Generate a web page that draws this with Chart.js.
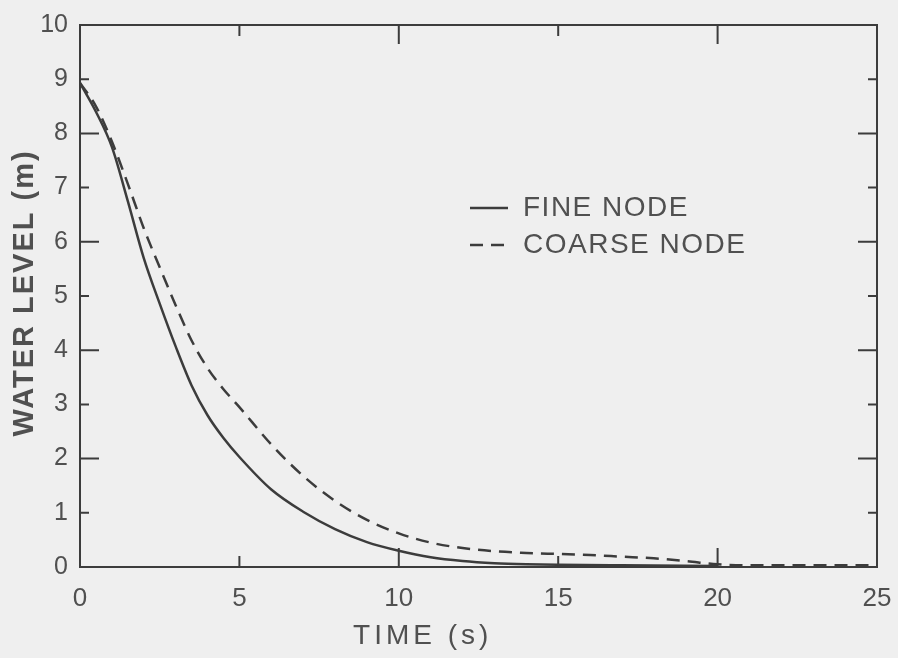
<!DOCTYPE html>
<html>
<head>
  <meta charset="UTF-8">
  <title>Water level</title>
  <script src="https://cdn.jsdelivr.net/npm/chart.js"></script>
  <style>
    body {
      margin: 0;
      background-color: #efefef;
    }
    canvas {
      display: block;
    }
  </style>
</head>
<body>
  <canvas id="chart" width="898" height="658"></canvas>

  <script>
    // values
    const timeFine = [0, 0.5, 1, 1.5, 2, 2.5, 3, 3.5, 4, 4.5, 5, 6, 7, 8, 9, 10, 11, 12, 13, 14, 15, 17, 20];
    const levelFine = [8.93, 8.4, 7.75, 6.75, 5.7, 4.86, 4.07, 3.35, 2.8, 2.38, 2.03, 1.43, 1.02, 0.7, 0.46, 0.3, 0.18, 0.11, 0.07, 0.05, 0.04, 0.03, 0.02];

    const timeCoarse = [0, 0.5, 1, 1.5, 2, 2.5, 3, 3.5, 4, 4.5, 5, 6, 7, 8, 9, 10, 11, 12, 13, 14, 15, 16, 17, 18, 19, 20, 21, 25];
    const levelCoarse = [8.93, 8.5, 7.85, 7.07, 6.25, 5.53, 4.83, 4.18, 3.67, 3.28, 2.95, 2.26, 1.68, 1.22, 0.87, 0.62, 0.45, 0.35, 0.29, 0.26, 0.24, 0.22, 0.19, 0.16, 0.11, 0.05, 0.03, 0.03];

    const seriesNames = ['FINE NODE', 'COARSE NODE'];
    const xTickValues = [0, 5, 10, 15, 20, 25];
    const yTickValues = [0, 1, 2, 3, 4, 5, 6, 7, 8, 9, 10];
    const xTitle = 'TIME (s)';
    const yTitle = 'WATER LEVEL (m)';

    const ink = '#3c3c3c';
    const textInk = '#505050';
    const font = '"Liberation Sans", sans-serif';

    const toPoints = (xs, ys) => xs.map((x, i) => ({ x: x, y: ys[i] }));

    // frame on all four sides + inward ticks
    const frameTicks = {
      id: 'frameTicks',
      afterDraw(chart) {
        const { ctx, chartArea: a, scales: { x, y } } = chart;
        ctx.save();
        ctx.strokeStyle = ink;
        ctx.lineWidth = 2;
        ctx.strokeRect(a.left, a.top, a.right - a.left, a.bottom - a.top);
        ctx.beginPath();
        xTickValues.slice(1, -1).forEach(v => {
          const px = x.getPixelForValue(v);
          const len = v % 10 === 0 ? 19 : 11;
          ctx.moveTo(px, a.bottom); ctx.lineTo(px, a.bottom - len);
          ctx.moveTo(px, a.top); ctx.lineTo(px, a.top + len);
        });
        yTickValues.slice(1, -1).forEach(v => {
          const py = y.getPixelForValue(v);
          const len = v % 2 === 0 ? 19 : 9;
          ctx.moveTo(a.left, py); ctx.lineTo(a.left + len, py);
          ctx.moveTo(a.right, py); ctx.lineTo(a.right - len, py);
        });
        ctx.stroke();
        ctx.restore();
      }
    };

    // axis titles with the wide lettering of the original
    const axisTitles = {
      id: 'axisTitles',
      afterDraw(chart) {
        const { ctx, chartArea: a } = chart;
        ctx.save();
        ctx.fillStyle = textInk;
        ctx.textAlign = 'center';
        ctx.textBaseline = 'middle';
        ctx.letterSpacing = '4px';
        ctx.font = '28px ' + font;
        ctx.fillText(xTitle, a.left + (a.right - a.left) * 0.43, 636);
        ctx.translate(25, (a.top + a.bottom) / 2 - 3);
        ctx.rotate(-Math.PI / 2);
        ctx.letterSpacing = '2px';
        ctx.font = 'bold 29px ' + font;
        ctx.fillText(yTitle, 0, 0);
        ctx.restore();
      }
    };

    // legend inside the plot
    const innerLegend = {
      id: 'innerLegend',
      afterDraw(chart) {
        const { ctx, chartArea: a } = chart;
        const x0 = a.left + 390, y0 = a.top + 183, row = 37;
        ctx.save();
        chart.data.datasets.forEach((ds, i) => {
          const yy = y0 + i * row;
          ctx.strokeStyle = ds.borderColor;
          ctx.lineWidth = 2.5;
          ctx.setLineDash(ds.borderDash || []);
          ctx.beginPath();
          ctx.moveTo(x0, yy); ctx.lineTo(x0 + 38, yy);
          ctx.stroke();
          ctx.setLineDash([]);
          ctx.fillStyle = textInk;
          ctx.font = '28px ' + font;
          ctx.letterSpacing = '1.5px';
          ctx.textBaseline = 'middle';
          ctx.fillText(ds.label, x0 + 53, yy);
        });
        ctx.restore();
      }
    };

    new Chart(document.getElementById('chart'), {
      type: 'line',
      data: {
        datasets: [{
          label: seriesNames[0],
          data: toPoints(timeFine, levelFine),
          borderColor: ink,
          borderWidth: 2.5,
          pointRadius: 0,
          cubicInterpolationMode: 'monotone'
        }, {
          label: seriesNames[1],
          data: toPoints(timeCoarse, levelCoarse),
          borderColor: ink,
          borderWidth: 2.5,
          borderDash: [13, 8],
          pointRadius: 0,
          cubicInterpolationMode: 'monotone'
        }]
      },
      options: {
        responsive: false,
        animation: false,
        layout: { padding: { top: 25, right: 21, left: 0, bottom: 0 } },
        plugins: {
          legend: { display: false },
          tooltip: { enabled: false }
        },
        scales: {
          x: {
            type: 'linear',
            min: 0,
            max: 25,
            afterBuildTicks: s => { s.ticks = xTickValues.map(v => ({ value: v })); },
            afterFit: s => { s.height = 91; s.paddingLeft = 0; s.paddingRight = 0; },
            grid: { display: false, drawTicks: false },
            border: { display: false },
            ticks: { color: textInk, font: { family: font, size: 26 }, padding: 16, maxRotation: 0 }
          },
          y: {
            min: 0,
            max: 10,
            afterBuildTicks: s => { s.ticks = yTickValues.map(v => ({ value: v })); },
            afterFit: s => { s.width = 80; s.paddingTop = 0; s.paddingBottom = 0; },
            grid: { display: false, drawTicks: false },
            border: { display: false },
            ticks: { color: textInk, font: { family: font, size: 25 }, padding: 12 }
          }
        }
      },
      plugins: [frameTicks, axisTitles, innerLegend]
    });
  </script>
</body>
</html>
